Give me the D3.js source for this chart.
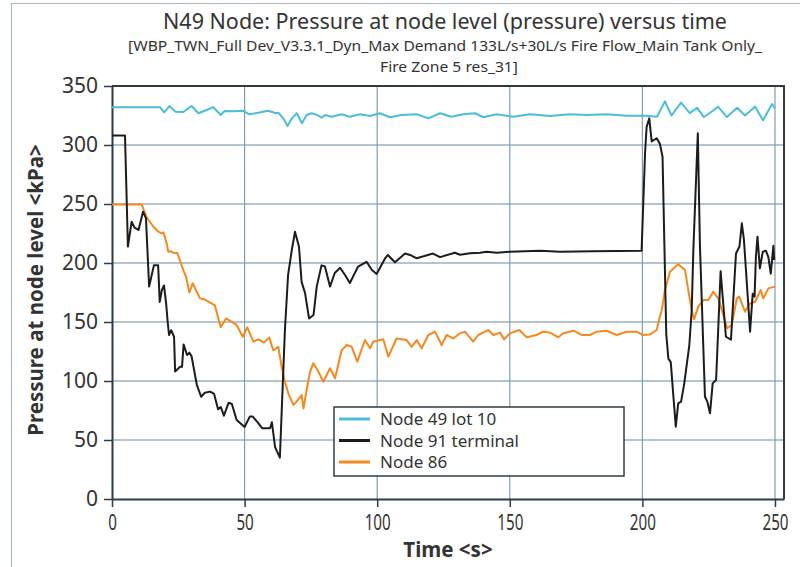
<!DOCTYPE html>
<html>
<head>
<meta charset="utf-8">
<script src="https://cdn.jsdelivr.net/npm/d3@7"></script>
<style>
  body { margin: 0; background: #fff; }
  text { font-family: "Noto Sans", "Open Sans", sans-serif; fill: #333; }
</style>
</head>
<body>
<div id="chart"></div>
<script>
// time (s) / pressure (kPa)
const node49Time = [0, 18.1, 19.7, 21.6, 24, 26.9, 30, 32.6, 38.2, 41, 42.5, 45.6, 49.3, 51.8, 55.6, 58.8, 61.9, 62.7, 64.6, 66.2, 67.8, 69.7, 71.6, 73.4, 75.3, 77.2, 79.1, 80.3, 82.8, 86.6, 89.7, 93.5, 97.3, 101, 104.8, 109.2, 114.9, 119.3, 123.7, 128, 132.5, 136.9, 140, 145, 151.3, 157.6, 165.2, 172.7, 179, 186.5, 194, 201.6, 205.5, 208.5, 211, 214.6, 217.9, 220.6, 223.2, 226.6, 228.5, 231.9, 235.7, 238.7, 242.5, 245.5, 248.9, 250];
const node49Value = [332, 332, 327.7, 333, 328.2, 328, 333, 326.9, 332, 325.4, 328.8, 328.5, 329.1, 326, 327.5, 329, 326.9, 327.4, 322.6, 316, 322.6, 326.9, 318.4, 325.4, 326.9, 325.5, 323.1, 325.4, 324, 326, 324, 326, 324.6, 326.9, 323.5, 325.4, 326, 322.6, 326.9, 324, 326, 326.9, 323.5, 326, 324, 326, 324.6, 326, 325.5, 326, 324.8, 324.8, 324, 337, 325, 336, 327, 331.6, 323.7, 329, 332.5, 323.7, 331.6, 325, 332.5, 321, 334.7, 331];

const node91Time = [0, 4.9, 6, 7.4, 8.5, 10, 11.7, 12.8, 14, 15.8, 17.4, 18, 18.8, 19.6, 20.4, 21, 21.5, 22.3, 23.4, 23.8, 25.6, 26.4, 27, 28.3, 29.2, 30, 32, 33.6, 35, 37, 38.5, 40, 41, 42.2, 44, 45.2, 47, 50, 52, 53, 54.7, 56.6, 59.6, 60.3, 61.5, 63.3, 65.2, 66.4, 67.8, 69, 70.5, 71.5, 72.8, 74.3, 76, 77.2, 79, 80.3, 82.2, 84, 86, 87.8, 89.7, 92.8, 96, 98, 99.8, 103, 104, 106.7, 110.5, 112.4, 114.9, 121, 123.7, 129.3, 131.2, 135, 138.8, 141.3, 145, 150, 161.4, 169, 181.5, 199.7, 201, 201.6, 202.6, 203.5, 205.4, 206.6, 207.6, 209, 209.8, 210.7, 211.7, 212.6, 213.5, 214.6, 215.8, 217.7, 218.6, 219.2, 220.9, 221.7, 223.6, 224.5, 225.5, 226.5, 227.8, 229.5, 231.5, 233.4, 235.3, 236.6, 237.5, 238.3, 240.6, 241.6, 242.3, 242.8, 243.4, 244.3, 245.4, 246.6, 247.5, 248.4, 249.4, 249.7];
const node91Value = [308, 308, 214, 235, 230, 228, 243.5, 238, 180, 198, 198, 167, 177, 181, 166, 150, 139, 143, 137.5, 108, 112, 112, 131, 122, 124, 121, 96.6, 86.7, 90, 91, 89, 76, 78, 70.6, 81.6, 80.5, 67, 61, 70, 70, 65.5, 60, 60, 65, 44, 35, 143, 190, 211, 226.5, 214, 184, 174.5, 153, 156, 180, 198, 197, 180, 191.5, 196, 190, 183, 197, 201, 194, 190.7, 204, 206.8, 200.6, 208, 206.8, 204, 208, 205, 208.7, 207, 208.2, 208.7, 209.6, 208.7, 209.6, 210.4, 209.6, 210, 210.4, 293, 315.5, 322.6, 303, 305.7, 301, 290, 140, 119, 116, 86.7, 61.3, 81, 82.5, 98, 130.5, 160, 210, 310, 215, 86.7, 82.5, 72.6, 98, 100.8, 193, 137.5, 135, 208, 214, 233.6, 219.5, 141.8, 174, 171.5, 205, 222.3, 195.5, 209.6, 210.4, 205, 191, 214.7, 202.5];

const node86Time = [0, 11.2, 13, 15.6, 17.5, 18.7, 19.4, 20.6, 21.2, 21.9, 23.1, 24.6, 26.3, 26.9, 27.9, 29.2, 30.4, 33.2, 35, 38.8, 41, 43, 47, 49.3, 51, 53.3, 55.2, 57.3, 59.3, 60.8, 62.7, 64, 65.2, 66.5, 68.4, 69.6, 71.5, 72.2, 73.4, 74.7, 75.9, 77.8, 79.7, 82.2, 84.1, 86.6, 88.5, 90.4, 92.5, 95.4, 97.3, 98.5, 102.3, 104.2, 107.3, 111.1, 113, 114.9, 116.8, 119.3, 121.8, 124.3, 126.2, 128.7, 131.2, 133.1, 136.2, 138.1, 141.9, 143.8, 146.3, 147.9, 150, 153.6, 156.4, 160.1, 162.6, 165.2, 168.3, 170.2, 174, 177.1, 180.2, 182.8, 186.5, 190.3, 194.1, 197.8, 200.1, 202.9, 205.4, 206.6, 207.3, 208.5, 210.4, 213.5, 216.1, 217.3, 218.6, 219.5, 221.1, 223, 224.9, 226.7, 228.6, 230.5, 232, 233.7, 235.6, 236.5, 238.7, 240.6, 242.5, 244.6, 245.6, 247.5, 250];
const node86Value = [249.5, 249.5, 239, 230.7, 226.5, 225, 226, 216.7, 209.6, 210, 208.7, 208.5, 198, 194, 188.4, 175, 182.8, 170, 169, 164, 145.5, 153, 147.5, 137.5, 145.5, 133.3, 135.3, 132.5, 137, 126, 129, 112, 99.4, 89.5, 79.7, 82.5, 88, 76.8, 92.4, 107.9, 115, 108, 99.4, 110.8, 102.3, 126, 130.5, 129, 116.4, 134.7, 127.7, 133.3, 135.3, 120.6, 136, 134.7, 129, 134.7, 127.7, 139, 141.8, 130.5, 139, 136, 140.4, 141.8, 133.3, 139, 143.2, 139, 141, 135.3, 140.4, 143.2, 137, 139, 141.8, 141, 137, 140.4, 142.6, 139, 139, 141.8, 142.6, 139, 141.8, 141.8, 139, 139.5, 143.2, 154.5, 160, 177, 192.6, 199, 194, 177, 160, 152.3, 163, 168.6, 168.6, 175.7, 170, 156, 144.7, 147.5, 170, 171.5, 158.7, 165.8, 167.2, 177, 170, 178.5, 180];

const seriesNames = ['Node 49 lot 10', 'Node 91 terminal', 'Node 86'];
const seriesColors = ['#4cbdd8', '#1c1c1c', '#f5891f'];
const xTicks = [0, 50, 100, 150, 200, 250];
const yTicks = [0, 50, 100, 150, 200, 250, 300, 350];

const width = 800;
const height = 567;
const plot = { left: 112, right: 784, top: 86, bottom: 499 };

const svg = d3.select('#chart')
    .append('svg')
    .attr('width', width)
    .attr('height', height);

// outer frame
svg.append('path')
    .attr('d', 'M11.5,567 V3.5 H800')
    .attr('fill', 'none')
    .attr('stroke', '#a7b9c7')
    .attr('stroke-width', 1.2);

const xScale = d3.scaleLinear().domain([0, 253.4]).range([plot.left, plot.right]);
const yScale = d3.scaleLinear().domain([0, 350]).range([plot.bottom, plot.top]);

// horizontal grid
svg.append('g')
    .selectAll('line')
    .data(yTicks.filter((v) => v > 0 && v < 350))
    .join('line')
    .attr('x1', plot.left)
    .attr('x2', plot.right)
    .attr('y1', (d) => yScale(d))
    .attr('y2', (d) => yScale(d))
    .attr('stroke', '#b5c3ce')
    .attr('stroke-width', 2);

// vertical grid
svg.append('g')
    .selectAll('line')
    .data(xTicks.filter((v) => v > 0))
    .join('line')
    .attr('x1', (d) => xScale(d))
    .attr('x2', (d) => xScale(d))
    .attr('y1', plot.top)
    .attr('y2', plot.bottom)
    .attr('stroke', '#819db2')
    .attr('stroke-width', 1.2);

// axes
const yAxis = d3.axisLeft(yScale)
    .tickValues(yTicks)
    .tickSizeInner(8)
    .tickSizeOuter(0)
    .tickPadding(6);

const yg = svg.append('g')
    .attr('transform', `translate(${plot.left},0)`)
    .call(yAxis);
yg.select('.domain').attr('stroke', '#2f3c46').attr('stroke-width', 2);
yg.selectAll('.tick line').attr('stroke', '#2f3c46').attr('stroke-width', 1.5);
yg.selectAll('.tick text')
    .style('font-family', '"Noto Sans", sans-serif')
    .style('font-size', '21px')
    .attr('fill', '#333');

const xAxis = d3.axisBottom(xScale)
    .tickValues(xTicks)
    .tickSizeInner(8)
    .tickSizeOuter(0)
    .tickPadding(6);

const xg = svg.append('g')
    .attr('transform', `translate(0,${plot.bottom})`)
    .call(xAxis);
xg.select('.domain').attr('stroke', '#2f3c46').attr('stroke-width', 2);
xg.selectAll('.tick line').attr('stroke', '#2f3c46').attr('stroke-width', 1.5);
xg.selectAll('.tick text')
    .style('font-family', '"Noto Sans", sans-serif')
    .style('font-size', '22px')
    .attr('fill', '#333')
    .attr('y', 15)
    .attr('dy', '0.71em')
    .attr('textLength', (d) => String(d).length * 8.7)
    .attr('lengthAdjust', 'spacingAndGlyphs');

// top and right border
svg.append('path')
    .attr('d', `M${plot.left},${plot.top} H${plot.right} V${plot.bottom}`)
    .attr('fill', 'none')
    .attr('stroke', '#2f3c46')
    .attr('stroke-width', 2);

// lines
const series = [
    { time: node49Time, value: node49Value },
    { time: node91Time, value: node91Value },
    { time: node86Time, value: node86Value },
];

const lineFunction = d3.line()
    .x((d) => xScale(d[0]))
    .y((d) => yScale(d[1]));

// draw cyan first, then orange, then black on top
[0, 2, 1].forEach((i) => {
    const pts = series[i].time.map((t, k) => [t, series[i].value[k]]);
    svg.append('path')
        .attr('d', lineFunction(pts))
        .attr('fill', 'none')
        .attr('stroke', seriesColors[i])
        .attr('stroke-width', 2)
        .attr('stroke-linejoin', 'round');
});

// legend
const legend = svg.append('g').attr('transform', 'translate(334,407)');
legend.append('rect')
    .attr('width', 290)
    .attr('height', 69)
    .attr('fill', '#fff')
    .attr('stroke', '#2f3c46')
    .attr('stroke-width', 1.5);

seriesNames.forEach((name, i) => {
    const yPos = 12 + i * 21.5;
    legend.append('line')
        .attr('x1', 5)
        .attr('x2', 36)
        .attr('y1', yPos)
        .attr('y2', yPos)
        .attr('stroke', seriesColors[i])
        .attr('stroke-width', 3);
    legend.append('text')
        .attr('x', 46)
        .attr('y', yPos + 6)
        .style('font-size', '17px')
        .text(name);
});

// titles
svg.append('text')
    .attr('x', 445)
    .attr('y', 29)
    .attr('text-anchor', 'middle')
    .attr('textLength', 564)
    .attr('lengthAdjust', 'spacingAndGlyphs')
    .style('font-size', '21px')
    .text('N49 Node: Pressure at node level (pressure) versus time');

svg.append('text')
    .attr('x', 445)
    .attr('y', 51)
    .attr('text-anchor', 'middle')
    .attr('textLength', 634)
    .attr('lengthAdjust', 'spacingAndGlyphs')
    .style('font-size', '15px')
    .text('[WBP_TWN_Full Dev_V3.3.1_Dyn_Max Demand 133L/s+30L/s Fire Flow_Main Tank Only_');

svg.append('text')
    .attr('x', 449)
    .attr('y', 72)
    .attr('text-anchor', 'middle')
    .attr('textLength', 138)
    .attr('lengthAdjust', 'spacingAndGlyphs')
    .style('font-size', '15px')
    .text('Fire Zone 5 res_31]');

// axis titles
svg.append('text')
    .attr('x', 448)
    .attr('y', 557)
    .attr('text-anchor', 'middle')
    .style('font-size', '20.5px')
    .style('font-weight', 'bold')
    .text('Time <s>');

svg.append('text')
    .attr('transform', 'translate(43,290) rotate(-90)')
    .attr('text-anchor', 'middle')
    .style('font-size', '20.5px')
    .style('font-weight', 'bold')
    .text('Pressure at node level <kPa>');
</script>
</body>
</html>
